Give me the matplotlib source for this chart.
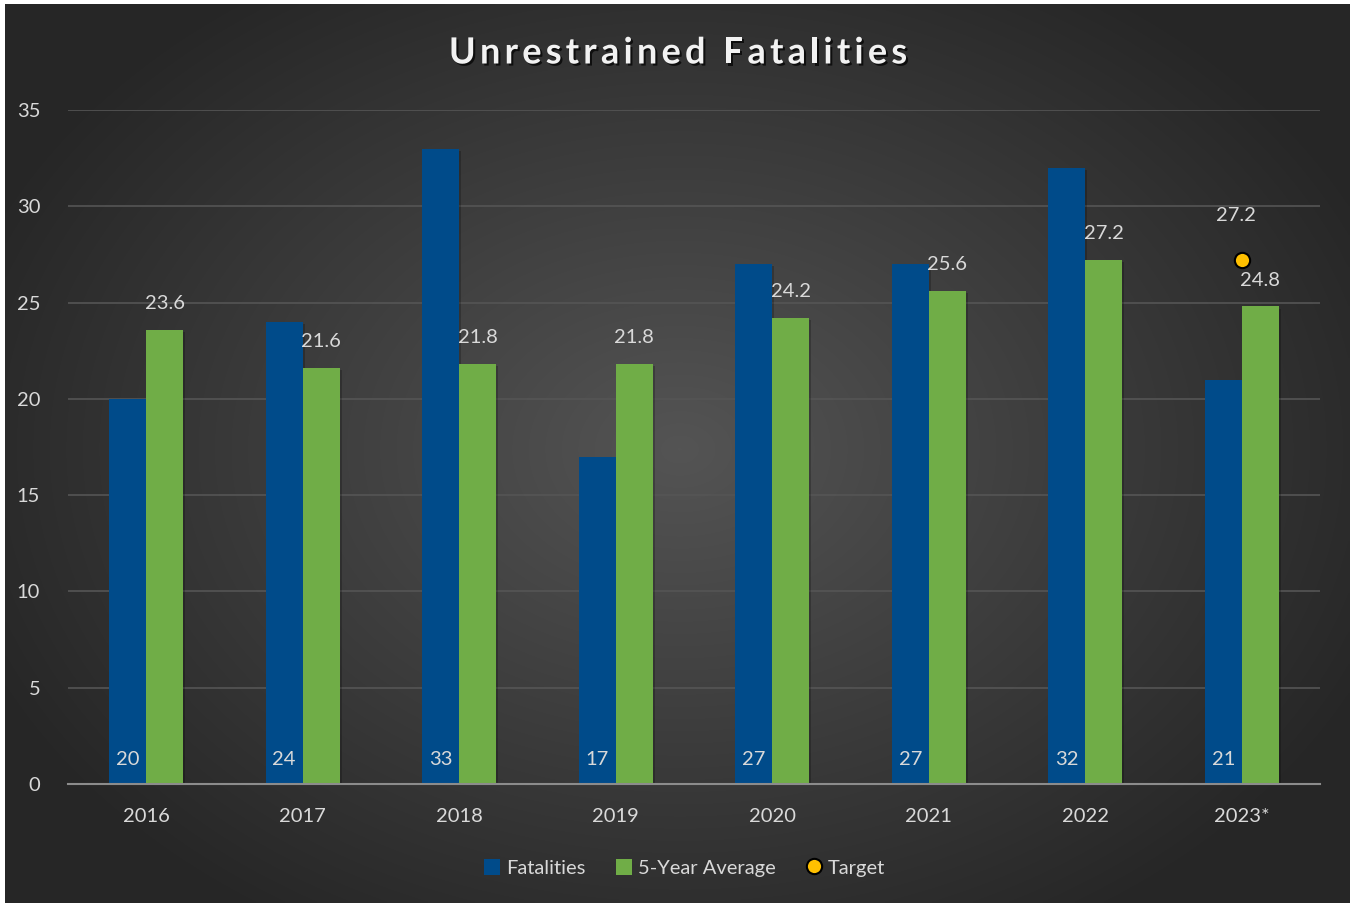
import numpy as np
import matplotlib
matplotlib.use("Agg")
import matplotlib.pyplot as plt
import matplotlib.patheffects as pe
from matplotlib.lines import Line2D
from matplotlib.patches import Patch

# chart data
years = ["2016", "2017", "2018", "2019", "2020", "2021", "2022", "2023*"]
fatalities = [20, 24, 33, 17, 27, 27, 32, 21]
five_year_avg = [23.6, 21.6, 21.8, 21.8, 24.2, 25.6, 27.2, 24.8]
target_year = "2023*"
target_value = 27.2
title = "Unrestrained Fatalities"

blue = "#004B8A"
green = "#70AD47"
gold = "#FFC000"
txt = "#D9D9D9"

plt.rcParams["font.family"] = ["Lato", "DejaVu Sans"]

W, H = 1356, 905
fig = plt.figure(figsize=(W / 100, H / 100), dpi=100, facecolor="white")

# dark radial gradient background
bg = fig.add_axes([0, 0, 1, 1])
bg.set_xlim(0, W)
bg.set_ylim(H, 0)
bg.axis("off")
x0, x1, y0, y1 = 5, 1350, 5, 903
xx, yy = np.meshgrid(np.linspace(x0, x1, 400), np.linspace(y0, y1, 300))
r = np.sqrt(((xx - 680) / 760) ** 2 + ((yy - 450) / 560) ** 2)
r = np.clip(r, 0, 1)
shade = 0.33 - 0.18 * r
img = np.dstack([shade, shade, shade])
bg.imshow(img, extent=(x0, x1, y1, y0), aspect="auto", interpolation="bilinear")

ax = fig.add_axes([68 / W, 1 - 784 / H, (1320 - 68) / W, (784 - 110) / H])
ax.patch.set_alpha(0)
x = np.arange(len(years))
w = 0.237

shadow = [pe.SimplePatchShadow(offset=(1.5, -1.5), shadow_rgbFace="black", alpha=0.22), pe.Normal()]
b1 = ax.bar(x - w / 2, fatalities, w, color=blue, zorder=3, path_effects=shadow)
b2 = ax.bar(x + w / 2, five_year_avg, w, color=green, zorder=3, path_effects=shadow)

ti = years.index(target_year)
ax.plot([ti], [target_value], "o", ms=11, mfc=gold, mec="black", mew=1.5, zorder=5)

for xi, v in zip(x, fatalities):
    ax.annotate(str(v), (xi - w / 2, 0), xytext=(0, 18), textcoords="offset points",
                ha="center", va="center", color=txt, fontsize=14.5, zorder=6)
for xi, v in zip(x, five_year_avg):
    ax.annotate(f"{v:.1f}", (xi + w / 2, v), xytext=(0, 19), textcoords="offset points",
                ha="center", va="center", color=txt, fontsize=14.5, zorder=6)
ax.annotate(f"{target_value:.1f}", (ti, target_value), xytext=(-4, 32), textcoords="offset points",
            ha="center", va="center", color=txt, fontsize=14.5, zorder=6)

ax.set_xlim(-0.5, len(years) - 0.5)
ax.set_ylim(0, 35)
ax.set_yticks(range(0, 36, 5))
ax.set_xticks(x)
ax.set_xticklabels(years)
ax.tick_params(axis="both", length=0, colors=txt, labelsize=14.5)
ax.tick_params(axis="y", pad=20)
ax.tick_params(axis="x", pad=17)
ax.grid(axis="y", color="#555555", lw=1.2, zorder=0)
for s in ["top", "right", "left"]:
    ax.spines[s].set_visible(False)
ax.spines["bottom"].set_color("#8C8C8C")
ax.spines["bottom"].set_linewidth(1.5)
ax.spines["bottom"].set_zorder(4)

# title with letter spacing: place characters one by one
renderer = fig.canvas.get_renderer()
tsize = 26
spacing = 4.2
tprops = dict(fontsize=tsize, fontweight="bold")
def text_w(s):
    if not s:
        return 0.0
    t = fig.text(0, 0, s.replace(" ", "\u00a0"), **tprops)
    wpx = t.get_window_extent(renderer).width
    t.remove()
    return wpx
total = text_w(title) + spacing * (len(title) - 1)
start = W / 2 - total / 2
tshadow = [pe.SimplePatchShadow(offset=(1.5, -1.5), shadow_rgbFace="black", alpha=0.7), pe.Normal()]
for i, ch in enumerate(title):
    if ch == " ":
        continue
    px = start + text_w(title[:i]) + spacing * i
    fig.text(px / W, 1 - 53 / H, ch, ha="left", va="center", color="#F2F2F2",
             path_effects=tshadow, **tprops)

handles = [
    Patch(facecolor=blue, label="Fatalities"),
    Patch(facecolor=green, label="5-Year Average"),
    Line2D([], [], marker="o", ls="none", ms=11, mfc=gold, mec="black", mew=1.5, label="Target"),
]
leg = fig.legend(handles=handles, loc="center", bbox_to_anchor=(0.505, 1 - 868 / H), ncol=3,
                 frameon=False, fontsize=14.5, handlelength=0.8, handleheight=0.8,
                 handletextpad=0.3, columnspacing=1.5, labelcolor=txt)

fig.savefig("out.png", dpi=100, facecolor="white")
